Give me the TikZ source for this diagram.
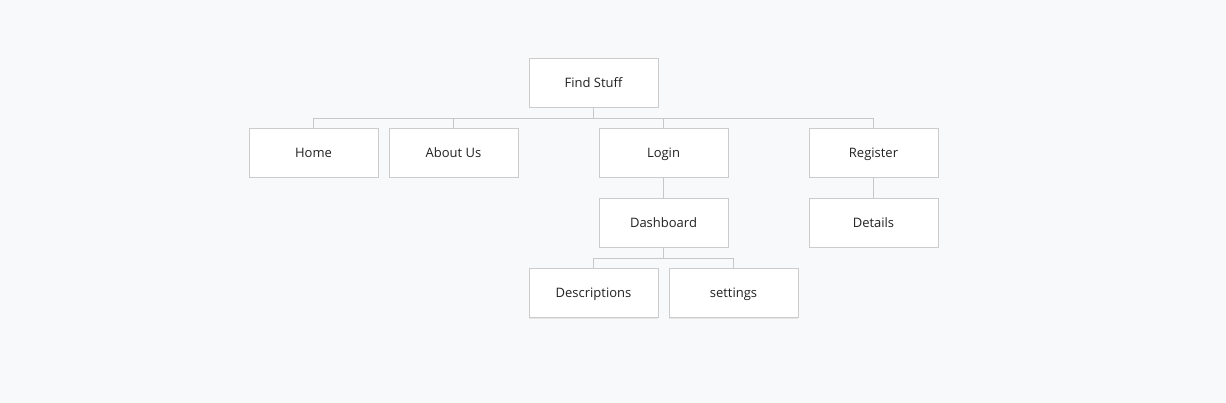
\documentclass[tikz,border=0pt]{standalone}
\usepackage{fontspec}
\setmainfont{Open Sans}
\usetikzlibrary{shadows}
\definecolor{bgc}{RGB}{248,249,250}
\definecolor{linec}{RGB}{200,200,200}
\definecolor{boxc}{RGB}{204,204,204}
\definecolor{txtc}{RGB}{34,34,34}
\begin{document}
\begin{tikzpicture}[x=1pt,y=-1pt,
  box/.style={draw=boxc,line width=0.8pt,fill=white,minimum width=129pt,minimum height=49pt,inner sep=0pt,
    text height=10pt,text depth=0pt,
    font=\fontsize{13}{15}\selectfont,text=txtc,
    drop shadow={shadow xshift=0pt,shadow yshift=-1.5pt,opacity=0.08,fill=black}},
  conn/.style={draw=linec,line width=0.8pt}]
\fill[bgc] (0,0) rectangle (1226,403);
\useasboundingbox (0,0) rectangle (1226,403);
\node[box] (find) at (593.5,82.5) {Find Stuff};
\node[box] (home) at (313.5,152.5) {Home};
\node[box] (about) at (453.5,152.5) {About Us};
\node[box] (login) at (663.5,152.5) {Login};
\node[box] (register) at (873.5,152.5) {Register};
\node[box] (dash) at (663.5,222.5) {Dashboard};
\node[box] (details) at (873.5,222.5) {Details};
\node[box] (desc) at (593.5,292.5) {Descriptions};
\node[box] (settings) at (733.5,292.5) {settings};
\coordinate (bus1) at (593.5,118);
\coordinate (bus2) at (663.5,258);
\foreach \c in {home,about,login,register}{
  \draw[conn] (find.south) -- (bus1) -| (\c.north);
}
\draw[conn] (login.south) -- (dash.north);
\draw[conn] (register.south) -- (details.north);
\foreach \c in {desc,settings}{
  \draw[conn] (dash.south) -- (bus2) -| (\c.north);
}
\end{tikzpicture}
\end{document}
